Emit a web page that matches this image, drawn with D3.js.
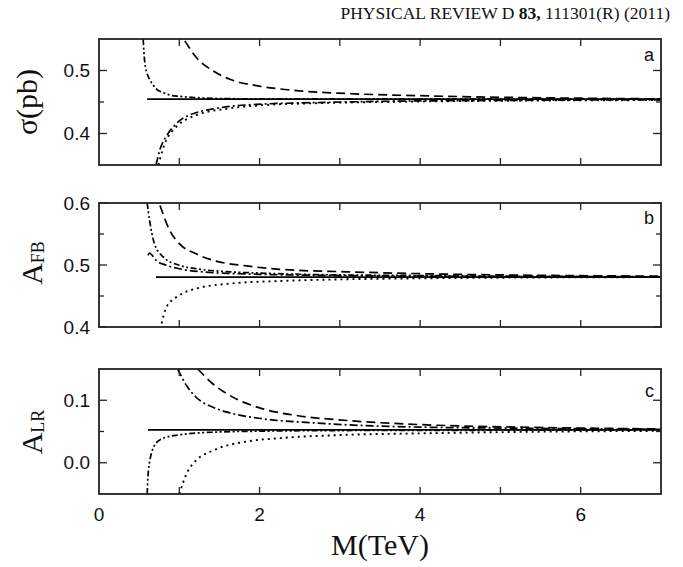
<!DOCTYPE html>
<html><head><meta charset="utf-8">
<script src="https://cdn.jsdelivr.net/npm/d3@7"></script>
<style>body{margin:0;background:#fff}svg{display:block}</style>
</head><body>
<svg id="c" width="683" height="567"></svg>
<script>
// ---------- data ----------
const xTicks = [0,1,2,3,4,5,6,7];
const xTickLabels = ["0","2","4","6"];

// panel a : sigma(pb)
const aSM_x = [0.6, 7], aSM_y = [0.4546, 0.4546];
const aDDD_x = [0.55,0.57,0.6,0.63,0.68,0.72,0.8,0.88,1.0,1.21,1.5,2,3,4,5,7];
const aDDD_y = [0.55,0.513,0.495,0.486,0.476,0.470,0.465,0.461,0.459,0.457,0.4555,0.455,0.4548,0.4547,0.4546,0.4546];
const aDash_x = [1.07,1.21,1.42,1.63,1.96,2.38,3.08,4,5,6,7];
const aDash_y = [0.547,0.521,0.4995,0.486,0.476,0.469,0.4635,0.460,0.4575,0.456,0.455];
const aDD_x = [0.71,0.76,0.84,0.92,1.0,1.21,1.42,1.63,2.04,2.67,3.5,5,7];
const aDD_y = [0.35,0.375,0.396,0.410,0.420,0.433,0.439,0.443,0.4467,0.449,0.451,0.4525,0.4535];
const aDot_x = [0.74,0.79,0.84,0.92,1.0,1.21,1.63,2.04,2.67,3.5,5,7];
const aDot_y = [0.35,0.373,0.39,0.405,0.415,0.429,0.440,0.445,0.448,0.450,0.452,0.453];

// panel b : A_FB
const bSM_x = [0.71, 7], bSM_y = [0.4806, 0.4806];
const bDDD_x = [0.6,0.63,0.69,0.8,1.0,1.21,1.63,2.0,2.5,3,4,5,7];
const bDDD_y = [0.6,0.572,0.5345,0.513,0.4995,0.494,0.489,0.487,0.485,0.484,0.483,0.482,0.481];
const bDD_x = [0.61,0.63,0.66,0.71,0.84,1.0,1.42,2.0,3,4,7];
const bDD_y = [0.5156,0.519,0.516,0.5076,0.4995,0.494,0.4877,0.485,0.483,0.482,0.481];
const bDash_x = [0.76,0.88,1.0,1.21,1.42,1.84,2.25,3.09,4,5,7];
const bDash_y = [0.596,0.556,0.5345,0.518,0.5076,0.4985,0.493,0.489,0.486,0.484,0.482];
const bDot_x = [0.78,0.84,1.0,1.21,1.63,2.25,3.09,4,5,7];
const bDot_y = [0.4055,0.4323,0.451,0.462,0.470,0.4742,0.477,0.4785,0.4795,0.4805];

// panel c : A_LR
const cSM_x = [0.61, 7], cSM_y = [0.0527, 0.0527];
const cDD_x = [0.98,1.09,1.21,1.42,1.63,2.04,2.67,3.09,4,5,7];
const cDD_y = [0.15,0.1235,0.1048,0.0888,0.0798,0.0703,0.0639,0.0607,0.057,0.0555,0.0535];
const cDash_x = [1.23,1.42,1.63,2.04,2.46,3.09,4,5,6,7];
const cDash_y = [0.15,0.126,0.1075,0.0863,0.0756,0.0676,0.061,0.0575,0.0555,0.054];
const cDDD_x = [0.6,0.61,0.63,0.66,0.69,0.8,1.0,1.42,2,3,5,7];
const cDDD_y = [-0.05,-0.022,0.001,0.018,0.0276,0.0393,0.0447,0.0489,0.0505,0.0515,0.052,0.0525];
const cDot_x = [1.0,1.1,1.21,1.42,1.84,2.25,3.09,4,5,7];
const cDot_y = [-0.05,-0.015,0.0037,0.0196,0.034,0.0393,0.0447,0.047,0.049,0.051];

// ---------- drawing ----------
const svg = d3.select("#c");
const SANS = "'Liberation Sans', Arial, sans-serif";
const SERIF = "'Liberation Serif', 'Times New Roman', serif";
const L = 99, R = 661;
const x = d3.scaleLinear().domain([0,7]).range([L,R]);

const styles = {
  solid: null,
  dash: "9,5",
  dd: "8,3,2,3",
  ddd: "6,2.5,2,2.5,2,2.5",
  dot: "2,4"
};

const panels = [
  {id:"a", top:39, bot:165, dom:[0.35,0.55], major:[0.4,0.5], minor:[0.45], labels:["0.4","0.5"], letterDy:22,
   series:[[aSM_x,aSM_y,"solid"],[aDDD_x,aDDD_y,"ddd"],[aDash_x,aDash_y,"dash"],[aDD_x,aDD_y,"dd"],[aDot_x,aDot_y,"dot"]]},
  {id:"b", top:203, bot:327, dom:[0.4,0.6], major:[0.4,0.5,0.6], minor:[0.45,0.55], labels:["0.4","0.5","0.6"], letterDy:21,
   series:[[bSM_x,bSM_y,"solid"],[bDDD_x,bDDD_y,"ddd"],[bDD_x,bDD_y,"dd"],[bDash_x,bDash_y,"dash"],[bDot_x,bDot_y,"dot"]]},
  {id:"c", top:369, bot:494, dom:[-0.05,0.15], major:[0.0,0.1], minor:[0.05], labels:["0.0","0.1"], letterDy:28,
   series:[[cSM_x,cSM_y,"solid"],[cDD_x,cDD_y,"dd"],[cDash_x,cDash_y,"dash"],[cDDD_x,cDDD_y,"ddd"],[cDot_x,cDot_y,"dot"]]}
];

const defs = svg.append("defs");

panels.forEach(p => {
  const y = d3.scaleLinear().domain(p.dom).range([p.bot, p.top]);
  const g = svg.append("g");
  defs.append("clipPath").attr("id","clip"+p.id)
    .append("rect").attr("x",L).attr("y",p.top).attr("width",R-L).attr("height",p.bot-p.top);

  const line = d3.line().x(d=>x(d[0])).y(d=>y(d[1])).curve(d3.curveMonotoneX);
  const lg = g.append("g").attr("clip-path","url(#clip"+p.id+")");
  p.series.forEach(([xs,ys,st]) => {
    const pts = xs.map((v,i)=>[v,ys[i]]);
    lg.append("path").attr("d", line(pts)).attr("fill","none")
      .attr("stroke","#000").attr("stroke-width", st==="dot"?1.9:1.7)
      .attr("stroke-dasharray", styles[st]);
  });

  // ticks inward, all sides
  const tk = g.append("g").attr("stroke","#222").attr("stroke-width",1.3);
  xTicks.slice(1,-1).forEach(v => {
    tk.append("line").attr("x1",x(v)).attr("x2",x(v)).attr("y1",p.bot).attr("y2",p.bot-7);
    tk.append("line").attr("x1",x(v)).attr("x2",x(v)).attr("y1",p.top).attr("y2",p.top+7);
  });
  p.major.concat(p.minor).forEach(v => {
    const len = p.major.includes(v) ? 8 : 5;
    tk.append("line").attr("x1",L).attr("x2",L+len).attr("y1",y(v)).attr("y2",y(v));
    tk.append("line").attr("x1",R).attr("x2",R-len).attr("y1",y(v)).attr("y2",y(v));
  });
  // y tick labels
  p.major.forEach((v,i) => {
    g.append("text").attr("x",90).attr("y",y(v)).attr("dy","0.35em")
      .attr("text-anchor","end").attr("font-family",SANS).attr("font-size",19)
      .attr("fill","#111").text(p.labels[i]);
  });
  // frame
  g.append("rect").attr("x",L).attr("y",p.top).attr("width",R-L).attr("height",p.bot-p.top)
    .attr("fill","none").attr("stroke","#222").attr("stroke-width",1.8);
  // panel letter
  g.append("text").attr("x",654).attr("y",p.top+p.letterDy).attr("text-anchor","end")
    .attr("font-family",SANS).attr("font-size",18).attr("fill","#111").text(p.id);
});

// x tick labels (bottom panel)
xTickLabels.forEach(t => {
  svg.append("text").attr("x",x(+t)).attr("y",521).attr("text-anchor","middle")
    .attr("font-family",SANS).attr("font-size",19).attr("fill","#111").text(t);
});

// axis titles
svg.append("text").attr("x",380).attr("y",555).attr("text-anchor","middle")
  .attr("font-family",SERIF).attr("font-size",30).attr("fill","#111").text("M(TeV)");

svg.append("text").attr("transform","translate(37,102) rotate(-90)").attr("text-anchor","middle")
  .attr("font-family",SERIF).attr("font-size",30).attr("fill","#111").text("σ(pb)");

function subLabel(cx, cy, main, sub){
  const t = svg.append("text").attr("transform",`translate(${cx},${cy}) rotate(-90)`)
    .attr("text-anchor","middle").attr("font-family",SERIF).attr("fill","#111");
  t.append("tspan").attr("font-size",30).text(main);
  t.append("tspan").attr("font-size",18).attr("dy",2).text(sub);
}
subLabel(42, 263, "A", "FB");
subLabel(42, 432, "A", "LR");

// header
const h = svg.append("text").attr("x",670).attr("y",19).attr("text-anchor","end")
  .attr("font-family",SERIF).attr("font-size",17.5).attr("fill","#111");
h.append("tspan").text("PHYSICAL REVIEW D ");
h.append("tspan").attr("font-weight","bold").text("83,");
h.append("tspan").text(" 111301(R) (2011)");
</script>
</body></html>
